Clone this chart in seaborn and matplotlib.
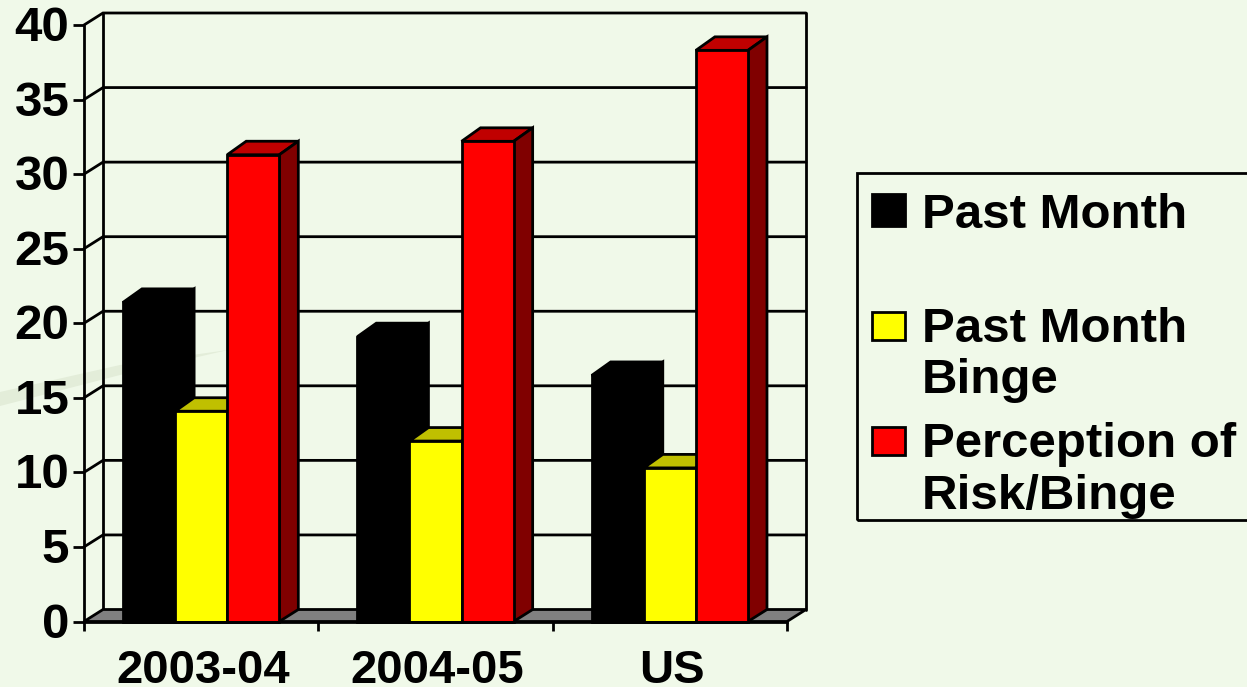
import numpy as np
import pandas as pd
import matplotlib
matplotlib.use('Agg')
import matplotlib.pyplot as plt
from matplotlib.patches import Polygon, Rectangle
from matplotlib.transforms import ScaledTranslation
import seaborn as sns

periods = ['2003-04', '2004-05', 'US']
past_month = [21.4, 19.1, 16.5]
past_month_binge = [14.1, 12.1, 10.3]
perception_risk = [31.3, 32.2, 38.3]
series_names = ['Past Month', 'Past Month Binge', 'Perception of Risk/Binge']
y_ticks = [0, 5, 10, 15, 20, 25, 30, 35, 40]

front_cols = ['#000000', '#FFFF00', '#FF0000']
top_cols = ['#000000', '#C0C000', '#C00000']
side_cols = ['#000000', '#808000', '#800000']
bg = '#F0F9E9'

W, H = 1247, 687
LW = 2.0

sns.set_style('white')
plt.rcParams['font.family'] = ['Liberation Sans', 'DejaVu Sans']
plt.rcParams['font.weight'] = 'bold'

df = pd.DataFrame({
    'period': periods * 3,
    'series': np.repeat(series_names, 3),
    'value': past_month + past_month_binge + perception_risk,
})

fig = plt.figure(figsize=(W / 100, H / 100), dpi=100, facecolor=bg)
ax = fig.add_axes([84 / W, 1 - 621.5 / H, 703 / W, 596.5 / H])
ax.patch.set_alpha(0)

sns.barplot(data=df, x='period', y='value', hue='series', palette=front_cols,
            hue_order=series_names, order=periods, width=0.667, gap=0,
            edgecolor='black', linewidth=LW, saturation=1, legend=False, ax=ax)
ax.set_xlim(-0.5, 2.5)
ax.set_ylim(0, 40)

# pixel depth of the fake 3d, converted to data units
ddx = 19 / (703 / 3)
ddy = 12 / (596.5 / 40)
bar_dy = 13.5 / (596.5 / 40)

# faint swoosh from the slide background
fig.add_artist(Polygon([(0 / W, 1 - 392 / H), (120 / W, 1 - 365 / H), (228 / W, 1 - 350 / H),
                        (120 / W, 1 - 375 / H), (0 / W, 1 - 406 / H)],
                       closed=True, transform=fig.transFigure, fc='#E3EDD9', ec='none', zorder=-5))

# walls and floor
x0, x1 = -0.5, 2.5
floor = Polygon([(x0, 0), (x1, 0), (x1 + ddx, ddy), (x0 + ddx, ddy)], closed=True,
                fc='#808080', ec='black', lw=LW, clip_on=False, zorder=1.5)
ax.add_patch(floor)
for v in y_ticks[1:]:
    ax.plot([x0, x0 + ddx, x1 + ddx], [v, v + ddy, v + ddy], color='black', lw=LW,
            clip_on=False, zorder=1, solid_joinstyle='miter')
ax.plot([x0 + ddx, x0 + ddx], [ddy, 40 + ddy], color='black', lw=LW, clip_on=False, zorder=1)
ax.plot([x1 + ddx, x1 + ddx], [ddy, 40 + ddy], color='black', lw=LW, clip_on=False, zorder=1)
ax.plot([x0, x0], [0, 40], color='black', lw=LW, clip_on=False, zorder=1.6)

# bar sides and tops, built from the bars seaborn drew
for i, cont in enumerate(ax.containers):
    for bar in cont:
        bar.set_zorder(4 + 2 * i)
        bar.set_clip_on(False)
        l, w, h = bar.get_x(), bar.get_width(), bar.get_height()
        r = l + w
        top = Polygon([(l, h), (r, h), (r + ddx, h + bar_dy), (l + ddx, h + bar_dy)], closed=True,
                      fc=top_cols[i], ec='black', lw=LW, clip_on=False, zorder=3 + 2 * i)
        side = Polygon([(r, 0), (r + ddx, ddy), (r + ddx, h + bar_dy), (r, h)], closed=True,
                       fc=side_cols[i], ec='black', lw=LW, clip_on=False, zorder=3 + 2 * i)
        ax.add_patch(top)
        ax.add_patch(side)

sns.despine(ax=ax, top=True, right=True, left=True, bottom=False)
ax.spines['bottom'].set_linewidth(LW)
ax.spines['bottom'].set_color('black')
ax.spines['bottom'].set_zorder(20)
ax.set_xlabel('')
ax.set_ylabel('')
ax.set_yticks(y_ticks)
ax.set_xticks([-0.5, 0.5, 1.5, 2.5])
ax.set_xticklabels([])
ax.tick_params(axis='y', length=8, width=LW, color='black', left=True)
ax.tick_params(axis='x', length=6.5, width=LW, color='black', bottom=True)
ax.tick_params(axis='y', labelsize=35.5, pad=2.5, labelcolor='black')
nudge = ScaledTranslation(0, 1.5 / 100, fig.dpi_scale_trans)
for lab in ax.get_yticklabels():
    lab.set_fontweight('bold')
    lab.set_transform(lab.get_transform() + nudge)
for i, p in enumerate(periods):
    ax.annotate(p, xy=(i, 0), xycoords='data', xytext=(1.5, -44), textcoords='offset points',
                ha='center', va='baseline', fontsize=34, fontweight='bold', color='black',
                annotation_clip=False)

# legend box, runs off the right edge like the original
def px(x, y):
    return x / W, 1 - y / H

fig.add_artist(Rectangle(px(857, 520), 500 / W, 347 / H, transform=fig.transFigure,
                         fc='none', ec='black', lw=LW, zorder=30))
for (y0, y1), col in zip([(194, 226), (312, 340), (427, 455)], front_cols):
    fig.add_artist(Rectangle(px(872, y1), 33 / W, (y1 - y0) / H, transform=fig.transFigure,
                             fc=col, ec='black', lw=LW, zorder=31))
legend_lines = [('Past Month', 228), ('Past Month', 342), ('Binge', 393),
                ('Perception of', 457), ('Risk/Binge', 509)]
for txt, y in legend_lines:
    fig.text(*px(922, y), txt, fontsize=35.5, fontweight='bold', va='baseline', ha='left',
             color='black', zorder=32)

fig.savefig('out.png', dpi=100, facecolor=bg)
